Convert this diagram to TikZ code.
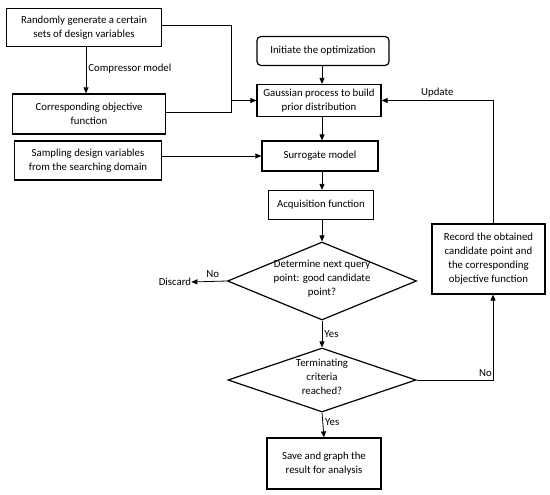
\documentclass[tikz,border=0pt]{standalone}
\usepackage{fontspec}
\setmainfont{Carlito}
\usetikzlibrary{shapes.geometric,arrows.meta,calc}
\newcommand{\dtext}[1]{\makebox[0pt]{\smash{\begin{tabular}{@{}c@{}}#1\end{tabular}}}}
\begin{document}
\begin{tikzpicture}[x=1pt,y=-1pt,
  every node/.style={font=\fontsize{10.8pt}{14pt}\selectfont, align=center},
  box/.style={draw, line width=1.2pt, inner sep=0pt},
  dia/.style={draw, line width=1.2pt, diamond, inner sep=0pt},
  arr/.style={line width=0.8pt, -{Triangle[length=6pt,width=5pt]}},
  ln/.style={line width=0.8pt},
  lbl/.style={inner sep=0pt}]
\useasboundingbox[fill=white] (0,0) rectangle (550,495);
% left column
\node[box, minimum width=155pt, minimum height=38pt] (b1) at (84,27.5) {Randomly generate a certain\\sets of design variables};
\node[box, minimum width=153pt, minimum height=40pt] (b2) at (89,114) {Corresponding objective\\function};
\node[box, minimum width=147pt, minimum height=39pt] (b3) at (88,160.5) {Sampling design variables\\from the searching domain};
% main column
\node[box, rounded corners=4pt, minimum width=132pt, minimum height=29pt] (init) at (323,51) {Initiate the optimization};
\node[box, minimum width=124pt, minimum height=32pt] (gp) at (319,100.5) {Gaussian process to build\\prior distribution};
\node[box, minimum width=116pt, minimum height=30pt] (sm) at (320,156) {Surrogate model};
\node[box, minimum width=105pt, minimum height=29pt] (af) at (321,205) {Acquisition function};
\node[dia, minimum width=189pt, minimum height=78pt] (d1) at (322,281) {\dtext{Determine next query\\point: good candidate\\point?}};
\node[dia, minimum width=188pt, minimum height=64pt] (d2) at (322,380) {\dtext{Terminating\\criteria\\reached?}};
\node[box, minimum width=114pt, minimum height=51pt] (save) at (324,463.5) {Save and graph the\\result for analysis};
\node[box, minimum width=113pt, minimum height=70pt] (rec) at (488.5,259) {Record the obtained\\candidate point and\\the corresponding\\objective function};
\node[lbl] (disc) at (175,282) {Discard};
% helper coordinates
\coordinate (cx) at (86,0);
\coordinate (mx) at (322,0);
\coordinate (j) at (231,100.5);
\coordinate (rx) at (493,0);
\coordinate (up) at (493,100.5);
% connectors
\draw[arr] (cx |- b1.south) -- node[lbl, anchor=west, pos=0.47, xshift=2pt] {Compressor model} (cx |- b2.north);
\draw[ln] (b1.east |- 0,25) -| (j);
\draw[ln] (b2.east |- 0,112) -| (j);
\draw[arr] (j) -- (gp.west);
\draw[arr] (b3.east |- sm.west) -- (sm.west);
\draw[arr] (mx |- init.south) -- (mx |- gp.north);
\draw[arr] (mx |- gp.south) -- (mx |- sm.north);
\draw[arr] (mx |- sm.south) -- (mx |- af.north);
\draw[arr] (mx |- af.south) -- (d1.north);
\draw[arr] (d1.west) -- node[lbl, above, yshift=3pt, pos=0.4] {No} (disc.east);
\draw[arr] (d1.south) -- node[lbl, anchor=west, xshift=2pt] {Yes} (d2.north);
\draw[arr] (d2.south) -- node[lbl, anchor=west, xshift=2pt, pos=0.4] {Yes} (save.north);
\draw[arr] (d2.east) -| node[lbl, above, pos=0.45, yshift=3pt] {No} (rx |- rec.south);
\draw[ln] (rx |- rec.north) -- (up);
\draw[arr] (up) -- node[lbl, above, pos=0.5, yshift=3pt] {Update} (gp.east);
\end{tikzpicture}
\end{document}
